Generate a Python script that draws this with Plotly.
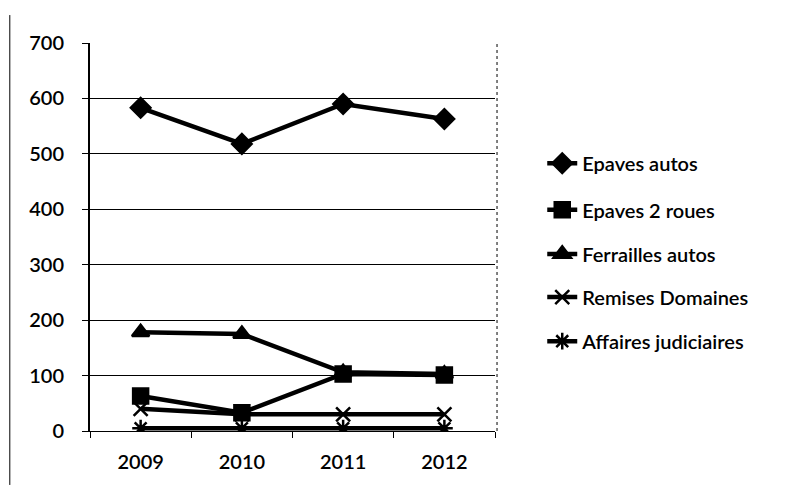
import plotly.graph_objects as go

years = ["2009", "2010", "2011", "2012"]
epaves_autos = [583, 518, 590, 563]
epaves_2_roues = [63, 33, 103, 101]
ferrailles_autos = [178, 175, 106, 103]
remises_domaines = [40, 30, 30, 30]
affaires_judiciaires = [5, 5, 5, 5]

series = [
    ("Epaves autos", epaves_autos, "diamond", 15),
    ("Epaves 2 roues", epaves_2_roues, "square", 15),
    ("Ferrailles autos", ferrailles_autos, "triangle-up", 15),
    ("Remises Domaines", remises_domaines, "x-thin-open", 14),
    ("Affaires judiciaires", affaires_judiciaires, "asterisk-open", 14),
]
legend_ys = [0.680, 0.584, 0.493, 0.404, 0.313]
legend_ids = ["legend", "legend2", "legend3", "legend4", "legend5"]

fig = go.Figure()
for (name, vals, sym, size), lid in zip(series, legend_ids):
    fig.add_trace(go.Scatter(
        x=years, y=vals, name=name, mode="lines+markers",
        line=dict(color="black", width=4.5),
        marker=dict(symbol=sym, size=size, color="black",
                    line=dict(color="black", width=2.5)),
        legend=lid,
    ))

legend_common = dict(xref="container", yref="container", x=0.672,
                      xanchor="left", yanchor="middle",
                      font=dict(size=20, weight=600), bgcolor="rgba(0,0,0,0)")
layout_legends = {}
for lid, ly in zip(legend_ids, legend_ys):
    layout_legends[lid] = dict(legend_common, y=ly)

fig.update_layout(
    width=795, height=485,
    margin=dict(l=82, r=308, t=35, b=62),
    paper_bgcolor="white", plot_bgcolor="white",
    font=dict(family="Lato, 'Open Sans', sans-serif", size=20, color="black",
              weight=600),
    showlegend=True,
    xaxis=dict(type="category", range=[-0.5, 3.5], showline=True,
               linecolor="black", linewidth=1, ticks="outside",
               tickson="boundaries", ticklen=6, tickcolor="black",
               showgrid=False, zeroline=False, ticklabelstandoff=13),
    yaxis=dict(range=[0, 700], dtick=100, showline=True, linecolor="black",
               linewidth=2, ticks="outside", ticklen=6, tickcolor="black",
               showgrid=True, gridcolor="black", gridwidth=1, zeroline=False,
               ticklabelstandoff=14),
    **layout_legends,
)

fig.add_shape(type="line", xref="paper", yref="paper",
              x0=-0.198, x1=-0.198, y0=-0.139, y1=1.072,
              line=dict(color="black", width=1))
fig.add_shape(type="line", xref="paper", yref="paper",
              x0=1.005, x1=1.005, y0=0, y1=1.0,
              line=dict(color="black", width=1, dash="dot"))

fig.write_html("out.html")
